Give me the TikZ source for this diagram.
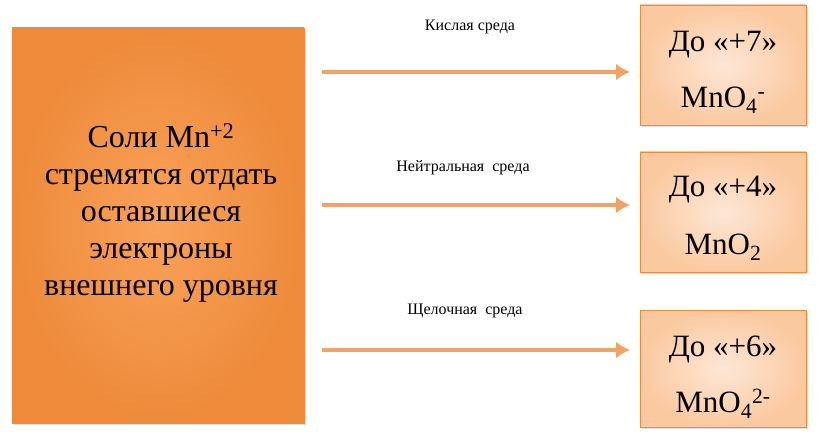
\documentclass[tikz,border=0pt]{standalone}
\usepackage{fontspec}
\setmainfont{Liberation Serif}
\usetikzlibrary{shadows,arrows.meta}
\definecolor{org}{HTML}{F9A25A}
\definecolor{orgd}{HTML}{EE8A3A}
\definecolor{peach}{HTML}{FBC9A0}
\definecolor{peachl}{HTML}{FDE7D6}
\definecolor{arr}{HTML}{F2A263}
\tikzset{x=1pt,y=-1pt,
 bigbox/.style={draw=orgd,line width=0.8pt,inner color=org,outer color=orgd,drop shadow={opacity=0.25}},
 smallbox/.style={draw=orgd,line width=0.8pt,inner color=peachl,outer color=peach,drop shadow={opacity=0.25}},
 conn/.style={draw=arr,line width=4pt,-{Latex[length=14pt,width=17pt]}},
 lab/.style={font=\fontsize{16}{18}\selectfont},
 btxt/.style={font=\fontsize{32}{37}\selectfont,align=center},
 rtxt/.style={font=\fontsize{31}{37}\selectfont,align=center}}
\begin{document}
\begin{tikzpicture}
\useasboundingbox (0,0) rectangle (820,441);
\path[bigbox] (12,28) rectangle (304,423);
\node[btxt] (L) at (161,213) {Соли Mn\textsuperscript{+2}\\стремятся отдать\\оставшиеся\\электроны\\внешнего уровня};
\path[smallbox] (640,5) rectangle (806,125);
\path[smallbox] (640,152) rectangle (806,272);
\path[smallbox] (640,310) rectangle (806,427);
\node[rtxt] (A) at (723,45) {До «+7»};
\node[rtxt] (A2) at (723,100) {MnO\textsubscript{4}\textsuperscript{-}};
\node[rtxt] (B) at (723,190) {До «+4»};
\node[rtxt] (B2) at (723,247) {MnO\textsubscript{2}};
\node[rtxt] (C) at (723,350) {До «+6»};
\node[rtxt] (C2) at (723,404) {MnO\textsubscript{4}\textsuperscript{2-}};
\coordinate (s1) at (322,72); \coordinate (e1) at (630,72);
\coordinate (s2) at (322,205); \coordinate (e2) at (630,205);
\coordinate (s3) at (322,350); \coordinate (e3) at (630,350);
\draw[conn] (s1) -- (e1);
\draw[conn] (s2) -- (e2);
\draw[conn] (s3) -- (e3);
\node[lab] (l1) at (470,27) {Кислая среда};
\node[lab] (l2) at (463,168) {Нейтральная\ \ среда};
\node[lab] (l3) at (465,311) {Щелочная\ \ среда};
\end{tikzpicture}
\end{document}
